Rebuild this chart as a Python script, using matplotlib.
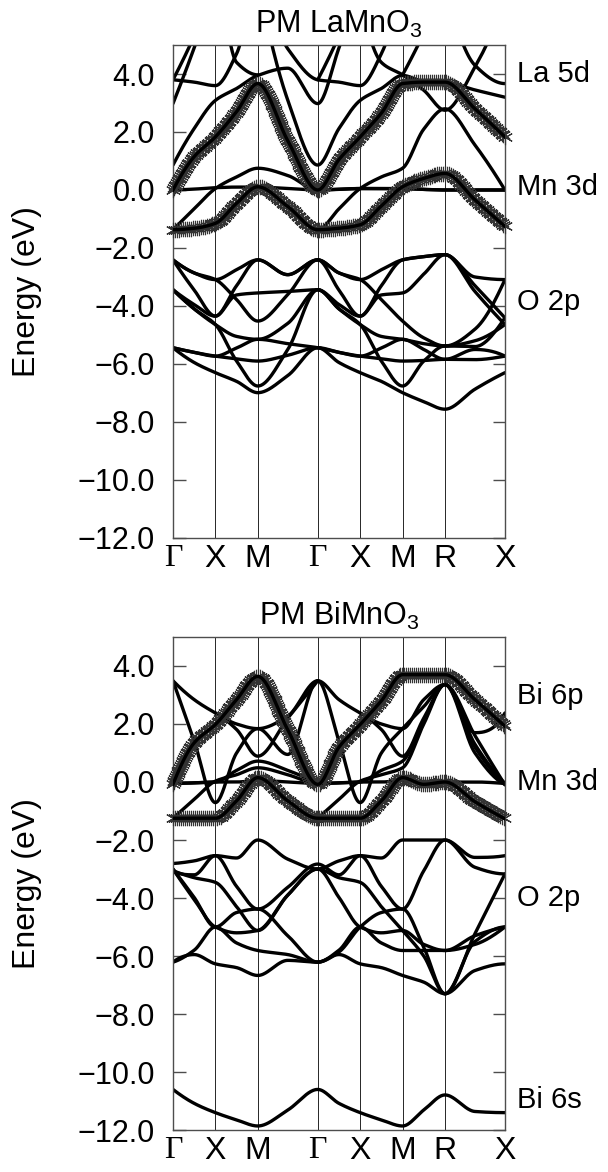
import numpy as np
import matplotlib
matplotlib.use("Agg")
import matplotlib.pyplot as plt
from matplotlib.transforms import blended_transform_factory

plt.rcParams["font.family"] = ["Liberation Sans", "DejaVu Sans"]
plt.rcParams["mathtext.fontset"] = "custom"
plt.rcParams["mathtext.rm"] = "Liberation Sans"
plt.rcParams["mathtext.it"] = "Liberation Sans"

n = np.nan

# path  G-X-M-G-X-M-R-X  (distances in units of 2pi/a)
kpts = [0.0, 0.5, 1.0, 1.7071, 2.2071, 2.7071, 3.2071, 3.9142]
klabels = ["Γ", "X", "M", "Γ", "X", "M", "R", "X"]
yticks = [-12, -10, -8, -6, -4, -2, 0, 2, 4]

# energies (eV) read at each k-point and at the middle of every segment:
# G  .  X  .  M  .  G  .  X  .  M  .  R  .  X
la_eg_up = [0.0, 1.15, 1.83, 2.7, 3.67, 1.7, 0.0, 1.05, 1.83, 2.65, 3.67, 3.72, 3.72, 2.8, 1.83]
la_eg_dn = [-1.37, -1.32, -1.15, -0.46, 0.11, -0.57, -1.37, -1.32, -1.2, -0.55, 0.11, 0.4, 0.57, -0.34, -1.26]

la_upper = [
    [0.0, 0.03, 0.08, 0.1, 0.1, 0.05, 0.0, 0.03, 0.05, 0.05, 0.05, 0.02, 0.0, 0.0, 0.0],
    [-1.37, -0.65, 0.05, 0.45, 0.75, 0.5, 0.0, 0.02, 0.05, 0.05, 0.05, 0.02, 0.0, 0.0, 0.0],
    [-1.37, -1.32, -1.15, -0.46, 0.11, -0.57, -1.37, -0.65, 0.05, 0.45, 0.75, 2.1, 2.8, 1.55, 0.0],
    [0.86, 2.12, 3.09, 3.5, 3.95, 4.2, 2.98, 4.9, 7.0, n, n, n, n, n, n],
    [n, n, n, n, n, n, n, n, 6.5, 4.4, 3.97, 3.44, 2.75, 4.24, 6.5],
    [2.98, 4.9, 7.0, 4.4, 3.97, n, n, n, n, n, n, n, n, n, n],
    [n, n, n, n, 7.2, 3.1, 0.86, 2.12, 3.09, 3.5, 3.95, 3.75, 3.72, 3.45, 3.2],
    [3.8, 3.72, 3.6, 4.7, 7.0, 4.87, 3.8, 3.72, 3.6, 4.7, 7.0, n, n, n, n],
    [3.8, 5.3, 7.0, n, n, n, 3.8, 5.3, 7.0, n, n, n, n, n, n],
    [n, n, n, n, n, n, n, n, n, n, 3.97, 5.4, 7.0, n, n],
    [n, n, n, n, n, n, n, n, n, n, n, n, 7.0, 4.3, 3.67],
]

la_o2p = [
    [-2.41, -2.86, -3.09, -3.78, -4.52, -3.61, -2.41, -2.86, -3.09, -3.78, -4.52, -5.1, -5.38, -4.8, -3.09],
    [-2.41, -3.45, -4.35, -3.3, -2.41, -2.92, -2.41, -3.45, -4.35, -3.3, -2.41, -2.3, -2.23, -3.0, -3.09],
    [-3.44, -4.1, -4.64, -5.05, -5.15, -4.6, -3.44, -4.1, -4.64, -5.05, -5.15, -5.3, -5.38, -5.2, -4.64],
    [-3.44, -3.95, -4.35, -3.62, -3.55, -3.5, -3.44, -3.95, -4.35, -3.62, -3.55, -2.9, -2.23, -3.3, -4.41],
    [-5.44, -5.6, -5.73, -5.82, -5.9, -5.7, -5.44, -5.6, -5.73, -5.82, -5.9, -5.88, -5.84, -5.85, -5.73],
    [-5.44, -5.95, -6.3, -6.6, -6.99, -6.4, -5.44, -5.95, -6.3, -6.6, -6.99, -7.3, -7.56, -6.87, -6.3],
    [-3.44, -4.1, -4.64, -5.9, -6.76, -5.5, -3.44, -4.1, -4.64, -5.9, -6.76, -5.9, -5.38, -5.4, -4.41],
    [-2.41, -2.86, -3.09, -2.75, -2.41, -2.92, -2.41, -2.86, -3.09, -2.75, -2.41, -2.3, -2.23, -3.5, -4.64],
    [-5.44, -5.6, -5.73, -5.45, -5.15, -5.3, -5.44, -5.6, -5.73, -5.45, -5.15, -5.5, -5.84, -5.5, -5.73],
]

bi_eg_up = [-0.08, 1.35, 1.98, 2.84, 3.64, 1.8, -0.08, 1.2, 1.98, 2.8, 3.7, 3.7, 3.7, 2.84, 1.92]
bi_eg_dn = [-1.25, -1.25, -1.25, -0.65, 0.15, -0.65, -1.25, -1.25, -1.25, -0.65, 0.15, -0.08, 0.0, -0.68, -1.27]

bi_upper = [
    [-0.05, -0.03, 0.0, 0.0, 0.05, 0.0, -0.05, -0.03, 0.0, 0.0, 0.05, 0.0, 0.0, 0.0, -0.05],
    [-0.05, -0.03, 0.0, 0.4, 0.72, 0.4, -0.05, n, n, n, n, n, n, n, n],
    [-1.25, -0.6, 0.03, 0.25, 0.49, 0.25, -0.05, -0.03, 0.0, 0.4, 0.72, 2.1, 3.36, 1.3, -0.05],
    [n, n, n, n, n, n, -1.25, -0.6, 0.03, 0.25, 0.49, 2.0, 3.36, 1.6, -0.1],
    [3.49, 2.84, 2.38, 2.0, 1.84, 2.27, 3.49, 2.84, 2.38, 2.0, 1.84, 2.84, 3.36, 1.7, 2.38],
    [3.49, 1.41, -0.71, 1.0, 1.84, 0.95, 3.49, 1.41, -0.71, 1.0, 1.84, 2.6, 3.36, 1.0, -0.08],
    [n, n, 2.38, 1.81, 0.89, 2.2, 3.49, n, 2.38, 1.81, 0.89, 2.2, 3.36, 1.2, -0.05],
]

bi_o2p = [
    [-2.81, -2.72, -2.54, -2.62, -2.0, -2.66, -3.0, -2.72, -2.54, -2.62, -2.0, -2.0, -2.0, -2.6, -2.54],
    [-3.06, -3.2, -2.54, -3.6, -4.38, -3.63, -2.83, -3.2, -2.54, -3.6, -4.38, -3.06, -2.0, -2.94, -3.17],
    [-3.06, -3.3, -3.46, -4.3, -5.12, -3.9, -3.0, -3.3, -3.46, -4.3, -5.12, -6.0, -7.3, -5.23, -3.17],
    [-3.0, -3.98, -5.0, -4.5, -4.38, -5.3, -6.21, -5.86, -5.0, -4.5, -4.38, -5.7, -7.3, -5.5, -5.0],
    [-3.0, -4.05, -5.0, -5.2, -5.12, -3.9, -3.0, -3.98, -5.0, -5.2, -5.12, -5.6, -5.81, -5.6, -5.0],
    [-6.21, -5.8, -5.0, -5.55, -5.81, -5.95, -6.21, -5.8, -5.0, -5.55, -5.81, -5.81, -5.81, -5.3, -5.0],
    [-6.21, -5.95, -6.27, -6.4, -6.67, -6.15, -6.21, -5.95, -6.27, -6.4, -6.67, -6.9, -7.3, -6.5, -6.27],
]

bi_6s = [-10.6, -11.08, -11.4, -11.65, -11.86, -11.31, -10.6, -11.08, -11.4, -11.65, -11.86, -11.31, -10.79, -11.36, -11.4]

la_labels = [("La 5d", 4.0), ("Mn 3d", 0.1), ("O 2p", -3.85)]
bi_labels = [("Bi 6p", 2.95), ("Mn 3d", 0.0), ("O 2p", -4.0), ("Bi 6s", -10.95)]

# k positions of the read points (symmetry points + segment middles)
kgrid = []
for a, b in zip(kpts[:-1], kpts[1:]):
    kgrid += [a, (a + b) / 2]
kgrid.append(kpts[-1])
kgrid = np.array(kgrid)


def slopes(x, y):
    # monotone cubic (pchip) derivatives
    h = np.diff(x)
    d = np.diff(y) / h
    m = np.zeros_like(y)
    if len(x) == 2:
        m[:] = d[0]
        return m
    for k in range(1, len(x) - 1):
        if d[k - 1] * d[k] > 0:
            w1 = 2 * h[k] + h[k - 1]
            w2 = h[k] + 2 * h[k - 1]
            m[k] = (w1 + w2) / (w1 / d[k - 1] + w2 / d[k])

    def end(h0, h1, d0, d1):
        s = ((2 * h0 + h1) * d0 - h0 * d1) / (h0 + h1)
        if np.sign(s) != np.sign(d0):
            s = 0.0
        elif np.sign(d0) != np.sign(d1) and abs(s) > abs(3 * d0):
            s = 3 * d0
        return s

    m[0] = end(h[0], h[1], d[0], d[1])
    m[-1] = end(h[-1], h[-2], d[-1], d[-2])
    return m


def band_curve(vals, npts=40):
    y = np.array(vals, float)
    idx = np.where(~np.isnan(y))[0]
    runs = np.split(idx, np.where(np.diff(idx) > 1)[0] + 1)
    xs, ys = [], []
    t = np.linspace(0, 1, npts)
    h00 = 2 * t**3 - 3 * t**2 + 1
    h10 = t**3 - 2 * t**2 + t
    h01 = -2 * t**3 + 3 * t**2
    h11 = t**3 - t**2
    for r in runs:
        if len(r) < 2:
            continue
        xr, yr = kgrid[r], y[r]
        m = slopes(xr, yr)
        for i in range(len(r) - 1):
            hh = xr[i + 1] - xr[i]
            xs.append(xr[i] + t * hh)
            ys.append(h00 * yr[i] + h10 * hh * m[i] + h01 * yr[i + 1] + h11 * hh * m[i + 1])
        xs.append([n])
        ys.append([n])
    return np.concatenate(xs), np.concatenate(ys)


def starred(ax, vals):
    xs, ys = band_curve(vals, 80)
    ok = ~np.isnan(xs)
    xs, ys = xs[ok], ys[ok]
    pts = ax.transData.transform(np.column_stack([xs, ys]))
    s = np.concatenate([[0], np.cumsum(np.hypot(*np.diff(pts, axis=0).T))])
    step = np.arange(0, s[-1], 2.0)
    ax.plot(np.interp(step, s, xs), np.interp(step, s, ys), ls="none",
            marker=(6, 2, 0), ms=11, mew=0.8, color="0.2", clip_on=False, zorder=3)
    ax.plot(xs, ys, color="black", lw=2.4, zorder=4)


def panel(ax, title, bands, eg_up, eg_dn, labels):
    ax.set_xlim(kpts[0], kpts[-1])
    ax.set_ylim(-12, 5)
    for k in kpts[1:-1]:
        ax.axvline(k, color="0.15", lw=0.7, zorder=1)
    for b in bands:
        xs, ys = band_curve(b)
        ax.plot(xs, ys, color="black", lw=2.4, zorder=2,
                solid_capstyle="round", solid_joinstyle="round")
    starred(ax, eg_up)
    starred(ax, eg_dn)

    ax.set_yticks(yticks)
    ax.set_yticklabels([f"{v:.1f}".replace("-", "\u2212") for v in yticks])
    ax.tick_params(axis="y", direction="in", length=9, width=1, color="0.3",
                   left=True, right=True, labelsize=22, pad=13)
    ax.set_xticks(kpts)
    ax.set_xticklabels(klabels)
    ax.tick_params(axis="x", length=0, labelsize=23, pad=4)
    for lab in ax.get_xticklabels():
        if lab.get_text() == "Γ":
            lab.set_fontfamily("Liberation Serif")
    for sp in ax.spines.values():
        sp.set_color("0.3")
        sp.set_linewidth(1.0)
    ax.set_title(title, fontsize=22, pad=9)

    tr = blended_transform_factory(ax.transAxes, ax.transData)
    for text, e in labels:
        ax.text(1.035, e, text, transform=tr, fontsize=21, va="center", ha="left")


fig = plt.figure(figsize=(6.08, 11.72), dpi=100)
ax1 = fig.add_axes([0.2845, 0.541, 0.546, 0.4206])
ax2 = fig.add_axes([0.2845, 0.0358, 0.546, 0.4207])

panel(ax1, "PM LaMnO$_3$", la_upper + la_o2p, la_eg_up, la_eg_dn, la_labels)
panel(ax2, "PM BiMnO$_3$", bi_upper + bi_o2p + [bi_6s], bi_eg_up, bi_eg_dn, bi_labels)

for ax in (ax1, ax2):
    pos = ax.get_position()
    fig.text(27 / 608, pos.y0 + pos.height / 2, "Energy (eV)", rotation=90,
             fontsize=23, ha="center", va="center")

fig.savefig("out.png", dpi=100)
